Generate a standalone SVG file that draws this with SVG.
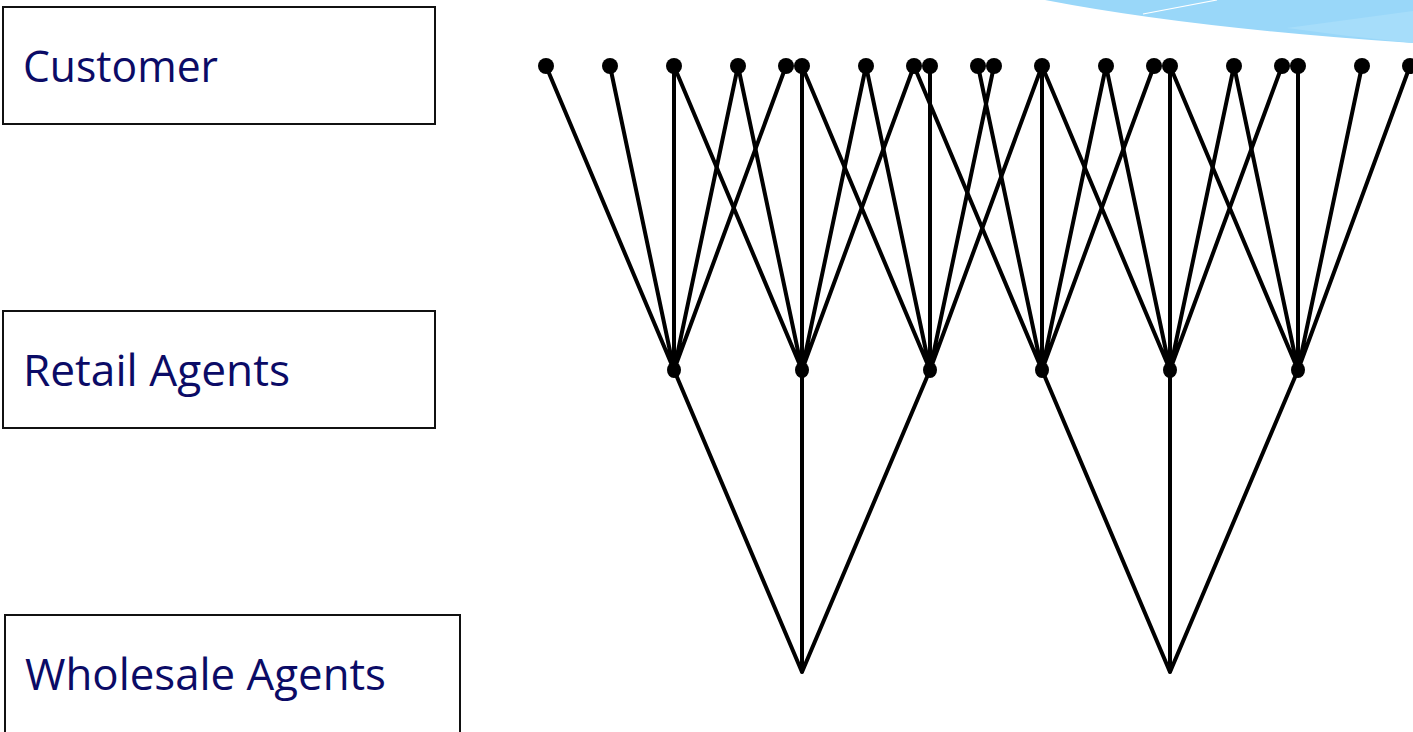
<svg xmlns="http://www.w3.org/2000/svg" width="1413" height="732" viewBox="0 0 1413 732">
<style>
.box{fill:#fff;stroke:#111;stroke-width:2}
.lbl{font-family:"Open Sans","Liberation Sans",sans-serif;font-size:43px;fill:#0b0b66}
.ln{stroke:#000;stroke-width:4;fill:none;stroke-linecap:round}
.dot{fill:#000}
</style>
<rect width="1413" height="732" fill="#fff"/>
<g id="swoosh">
<path d="M1045,0 Q1190,28 1413,43 L1413,0 Z" fill="#99d7f9"/>
<path d="M1287,28 Q1350,37 1413,43 L1413,11 Z" fill="#a6ddfa"/>
<path d="M1143,14 L1217,0" stroke="#fff" stroke-width="1.2"/>
</g>
<g id="customer"><rect class="box" x="3" y="7" width="432" height="117"/><text class="lbl" x="23" y="82" textLength="195" lengthAdjust="spacingAndGlyphs">Customer</text></g>
<g id="retail"><rect class="box" x="3" y="311" width="432" height="117"/><text class="lbl" x="23" y="386" textLength="267" lengthAdjust="spacingAndGlyphs">Retail Agents</text></g>
<g id="wholesale"><rect class="box" x="5" y="615" width="455" height="120"/><text class="lbl" x="25" y="690" textLength="361" lengthAdjust="spacingAndGlyphs">Wholesale Agents</text></g>
<g id="connectors">
<path class="ln" d="M546,66L674,370M610,66L674,370M674,66L674,370M738,66L674,370M786,66L674,370"/>
<path class="ln" d="M674,66L802,370M738,66L802,370M802,66L802,370M866,66L802,370M914,66L802,370"/>
<path class="ln" d="M802,66L930,370M866,66L930,370M930,66L930,370M994,66L930,370M1042,66L930,370"/>
<path class="ln" d="M914,66L1042,370M978,66L1042,370M1042,66L1042,370M1106,66L1042,370M1154,66L1042,370"/>
<path class="ln" d="M1042,66L1170,370M1106,66L1170,370M1170,66L1170,370M1234,66L1170,370M1282,66L1170,370"/>
<path class="ln" d="M1170,66L1298,370M1234,66L1298,370M1298,66L1298,370M1362,66L1298,370M1410,66L1298,370"/>
<path class="ln" d="M674,370L802,672M802,370L802,672M930,370L802,672"/>
<path class="ln" d="M1042,370L1170,672M1170,370L1170,672M1298,370L1170,672"/>
</g>
<g id="customers">
<circle class="dot" cx="546" cy="66" r="8"/><circle class="dot" cx="610" cy="66" r="8"/><circle class="dot" cx="674" cy="66" r="8"/><circle class="dot" cx="738" cy="66" r="8"/><circle class="dot" cx="786" cy="66" r="8"/><circle class="dot" cx="802" cy="66" r="8"/><circle class="dot" cx="866" cy="66" r="8"/><circle class="dot" cx="914" cy="66" r="8"/><circle class="dot" cx="930" cy="66" r="8"/><circle class="dot" cx="978" cy="66" r="8"/><circle class="dot" cx="994" cy="66" r="8"/><circle class="dot" cx="1042" cy="66" r="8"/><circle class="dot" cx="1106" cy="66" r="8"/><circle class="dot" cx="1154" cy="66" r="8"/><circle class="dot" cx="1170" cy="66" r="8"/><circle class="dot" cx="1234" cy="66" r="8"/><circle class="dot" cx="1282" cy="66" r="8"/><circle class="dot" cx="1298" cy="66" r="8"/><circle class="dot" cx="1362" cy="66" r="8"/><circle class="dot" cx="1410" cy="66" r="8"/>
</g>
<g id="retailers">
<ellipse class="dot" cx="674" cy="370" rx="7" ry="8"/><ellipse class="dot" cx="802" cy="370" rx="7" ry="8"/><ellipse class="dot" cx="930" cy="370" rx="7" ry="8"/><ellipse class="dot" cx="1042" cy="370" rx="7" ry="8"/><ellipse class="dot" cx="1170" cy="370" rx="7" ry="8"/><ellipse class="dot" cx="1298" cy="370" rx="7" ry="8"/>
</g>
</svg>
